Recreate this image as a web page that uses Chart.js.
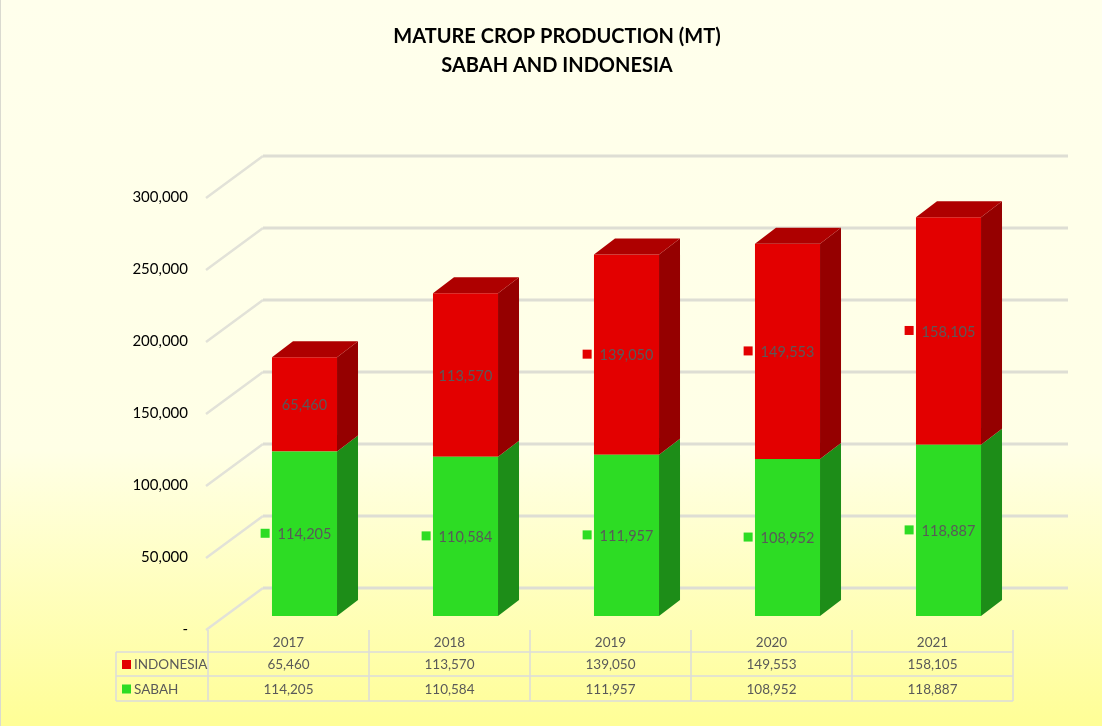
<!DOCTYPE html>
<html>
<head>
<meta charset="utf-8">
<script src="https://cdn.jsdelivr.net/npm/chart.js@4.4.1/dist/chart.umd.min.js"></script>
<style>
  html, body { margin: 0; padding: 0; }
  body { width: 1102px; height: 726px; overflow: hidden;
         background: linear-gradient(to bottom, #FFFFEC 0%, #FFFFE6 62%, #FFFE96 100%); }
  #wrap { position: absolute; left: 0; top: 0; width: 1102px; height: 726px;
          border-left: 1.5px solid #DADAD0; box-sizing: border-box; }
</style>
</head>
<body>
<div id="wrap"><canvas id="myChart" width="1102" height="726"></canvas></div>
<script>
// chart data
var years = ['2017', '2018', '2019', '2020', '2021'];
var indonesia = [65460, 113570, 139050, 149553, 158105];
var sabah = [114205, 110584, 111957, 108952, 118887];
var yTicks = [0, 50000, 100000, 150000, 200000, 250000, 300000];

// which data labels carry a legend key (as in the original)
var indonesiaKeys = [false, false, true, true, true];
var sabahKeys = [true, true, true, true, true];

// pseudo 3d settings
var FRONT = { x: -16, y: 14 };   // front plane (axis labels, table)
var BACK = { x: 39, y: -28 };    // back wall (gridlines)
var DEPTH = { x: 21, y: -16 };   // bar depth

function fmt(v) {
  return v === 0 ? '-' : v.toLocaleString('en-US');
}

var faces = {
  0: { side: '#1D8D18', top: '#22A81B' },
  1: { side: '#950000', top: '#AE0000' }
};

var wallPlugin = {
  id: 'wall',
  beforeDatasetsDraw: function (chart) {
    var ctx = chart.ctx, y = chart.scales.y, a = chart.chartArea;
    ctx.save();
    yTicks.forEach(function (v) {
      var py = y.getPixelForValue(v);
      // side wall diagonal
      ctx.strokeStyle = '#E2E2D8';
      ctx.lineWidth = 2.5;
      ctx.beginPath();
      ctx.moveTo(a.left + FRONT.x - 2, py + FRONT.y);
      ctx.lineTo(a.left + BACK.x, py + BACK.y);
      ctx.stroke();
      // back wall gridline
      ctx.strokeStyle = '#DEDED4';
      ctx.lineWidth = 3;
      ctx.beginPath();
      ctx.moveTo(a.left + BACK.x, py + BACK.y);
      ctx.lineTo(a.right + BACK.x, py + BACK.y);
      ctx.stroke();
    });
    ctx.restore();
  }
};

var cubePlugin = {
  id: 'cube',
  afterDatasetsDraw: function (chart) {
    var ctx = chart.ctx;
    var last = chart.data.datasets.length - 1;
    ctx.save();
    chart.data.datasets.forEach(function (ds, di) {
      var meta = chart.getDatasetMeta(di);
      meta.data.forEach(function (bar) {
        var p = bar.getProps(['x', 'y', 'base', 'width'], true);
        var l = p.x - p.width / 2, r = p.x + p.width / 2;
        ctx.fillStyle = faces[di].side;
        ctx.beginPath();
        ctx.moveTo(r, p.y);
        ctx.lineTo(r + DEPTH.x, p.y + DEPTH.y);
        ctx.lineTo(r + DEPTH.x, p.base + DEPTH.y);
        ctx.lineTo(r, p.base);
        ctx.closePath();
        ctx.fill();
        if (di === last) {
          ctx.fillStyle = faces[di].top;
          ctx.beginPath();
          ctx.moveTo(l, p.y);
          ctx.lineTo(r, p.y);
          ctx.lineTo(r + DEPTH.x, p.y + DEPTH.y);
          ctx.lineTo(l + DEPTH.x, p.y + DEPTH.y);
          ctx.closePath();
          ctx.fill();
        }
      });
    });
    ctx.restore();
  }
};

var labelPlugin = {
  id: 'valueLabels',
  afterDatasetsDraw: function (chart) {
    var ctx = chart.ctx;
    ctx.save();
    ctx.font = '14.5px Lato';
    ctx.textAlign = 'center';
    ctx.textBaseline = 'middle';
    chart.data.datasets.forEach(function (ds, di) {
      var meta = chart.getDatasetMeta(di);
      meta.data.forEach(function (bar, i) {
        var p = bar.getProps(['x', 'y', 'base'], true);
        var cy = (p.y + p.base) / 2;
        var txt = fmt(ds.data[i]);
        var w = ctx.measureText(txt).width;
        if (ds.keys[i]) {
          ctx.fillStyle = ds.backgroundColor;
          ctx.fillRect(p.x - w / 2 - 17, cy - 5, 9, 9);
        }
        ctx.fillStyle = '#595959';
        ctx.fillText(txt, p.x, cy + 1);
      });
    });
    ctx.restore();
  }
};

var tablePlugin = {
  id: 'dataTable',
  afterDraw: function (chart) {
    var ctx = chart.ctx, x = chart.scales.x;
    var cw = x.getPixelForValue(1) - x.getPixelForValue(0);
    var left = x.getPixelForValue(0) + FRONT.x - cw / 2;
    var right = x.getPixelForValue(years.length - 1) + FRONT.x + cw / 2;
    var labLeft = 115;
    var top = 630, r1 = 652, r2 = 676, bot = 701;
    var rows = [
      { name: 'INDONESIA', vals: indonesia, color: '#E30000', y: (r1 + r2) / 2 },
      { name: 'SABAH', vals: sabah, color: '#2DDC24', y: (r2 + bot) / 2 }
    ];
    ctx.save();
    ctx.strokeStyle = '#DCDCDC';
    ctx.lineWidth = 1.5;
    ctx.beginPath();
    ctx.moveTo(labLeft, r1); ctx.lineTo(right, r1);
    ctx.moveTo(labLeft, r2); ctx.lineTo(right, r2);
    ctx.moveTo(labLeft, bot); ctx.lineTo(right, bot);
    ctx.moveTo(labLeft, r1); ctx.lineTo(labLeft, bot);
    for (var i = 0; i <= years.length; i++) {
      var bx = left + i * cw;
      ctx.moveTo(bx, top); ctx.lineTo(bx, bot);
    }
    ctx.stroke();

    ctx.font = '13.5px Lato';
    ctx.textBaseline = 'middle';
    ctx.textAlign = 'center';
    ctx.fillStyle = '#595959';
    years.forEach(function (yr, i) {
      ctx.fillText(yr, left + (i + 0.5) * cw, 643);
    });
    rows.forEach(function (row) {
      ctx.fillStyle = row.color;
      ctx.fillRect(labLeft + 6, row.y - 4, 9, 9);
      ctx.fillStyle = '#595959';
      ctx.textAlign = 'left';
      ctx.fillText(row.name, labLeft + 18, row.y + 1);
      ctx.textAlign = 'center';
      row.vals.forEach(function (v, i) {
        ctx.fillText(fmt(v), left + (i + 0.5) * cw, row.y + 1);
      });
    });
    ctx.restore();
  }
};

var ctx = document.getElementById('myChart').getContext('2d');
var myChart = new Chart(ctx, {
  type: 'bar',
  data: {
    labels: years,
    datasets: [{
      label: 'SABAH',
      data: sabah,
      keys: sabahKeys,
      backgroundColor: '#2DDC24'
    },
    {
      label: 'INDONESIA',
      data: indonesia,
      keys: indonesiaKeys,
      backgroundColor: '#E30000'
    }]
  },
  options: {
    responsive: false,
    devicePixelRatio: 1,
    animation: false,
    layout: { padding: { left: 84, right: 74, top: 0, bottom: 102 } },
    datasets: { bar: { categoryPercentage: 1, barPercentage: 0.404 } },
    plugins: {
      legend: { display: false },
      tooltip: { enabled: false },
      title: {
        display: true,
        text: ['MATURE CROP PRODUCTION (MT)', 'SABAH AND INDONESIA'],
        color: '#000000',
        font: { family: 'Lato', size: 20, weight: 'bold', lineHeight: 1.45 },
        padding: { top: 22, bottom: 104 }
      }
    },
    scales: {
      x: {
        stacked: true,
        ticks: { display: false },
        grid: { display: false },
        border: { display: false }
      },
      y: {
        stacked: true,
        min: 0,
        max: 300000,
        afterFit: function (s) { s.width = 139; },
        afterBuildTicks: function (s) {
          s.ticks = yTicks.map(function (v) { return { value: v }; });
        },
        ticks: {
          padding: 36,
          labelOffset: 13,
          color: '#000000',
          font: { family: 'Lato', size: 15 },
          callback: function (v) { return fmt(v); }
        },
        grid: { display: false, drawTicks: false },
        border: { display: false }
      }
    }
  },
  plugins: [wallPlugin, cubePlugin, labelPlugin, tablePlugin]
});
</script>
</body>
</html>
